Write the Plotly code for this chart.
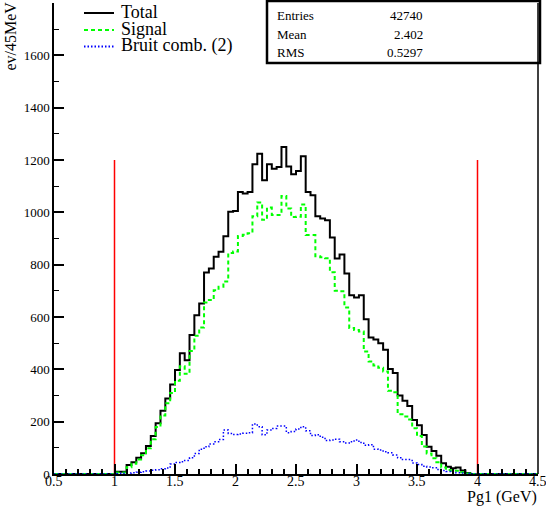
import numpy as np
import plotly.graph_objects as go

# ---------------- data ----------------
x_min, x_max = 0.5, 4.5
n_bins = 100
first_filled_low_edge = 1.02

total = [9, 9, 34, 45, 62, 79, 107, 145, 194, 242,
         289, 342, 397, 461, 435, 531, 607, 652, 770, 785,
         830, 849, 909, 1002, 1005, 1078, 1072, 1078, 1184, 1224,
         1123, 1184, 1167, 1173, 1250, 1175, 1146, 1158, 1214, 1078,
         1065, 985, 976, 970, 904, 824, 839, 766, 683, 675,
         683, 591, 522, 514, 500, 475, 401, 386, 300, 280,
         260, 206, 186, 149, 104, 88, 70, 41, 28, 22,
         25, 13, 4]

signal = [6, 6, 26, 39, 55, 72, 98, 133, 180, 224,
          270, 310, 356, 412, 383, 470, 528, 560, 655, 665,
          702, 716, 736, 845, 850, 910, 914, 920, 985, 1038,
          972, 1018, 990, 990, 1062, 1015, 982, 983, 1030, 913,
          913, 832, 828, 825, 771, 700, 698, 636, 558, 550,
          545, 468, 430, 415, 406, 392, 318, 312, 228, 220,
          208, 175, 145, 105, 78, 60, 45, 25, 15, 12,
          12, 7, 2]

bruit = [2, 3, 4, 5, 7, 9, 11, 14, 16, 20,
         23, 38, 44, 47, 52, 62, 78, 95, 104, 115,
         123, 132, 168, 155, 151, 153, 156, 158, 191, 181,
         150, 168, 174, 183, 183, 158, 162, 172, 181, 165,
         147, 150, 140, 128, 130, 133, 123, 118, 123, 130,
         120, 110, 112, 95, 92, 85, 81, 73, 62, 55,
         55, 42, 36, 30, 27, 24, 17, 13, 10, 7,
         5, 4, 2]

cut_low, cut_high, cut_top = 1.0, 4.0, 1200

legend_names = ["Total", "Signal", "Bruit comb. (2)"]
stats_labels = ["Entries", "Mean", "RMS"]
stats_values = ["42740", "2.402", "0.5297"]

x_tick_vals = [0.5, 1, 1.5, 2, 2.5, 3, 3.5, 4, 4.5]
x_tick_text = ["0.5", "1", "1.5", "2", "2.5", "3", "3.5", "4", "4.5"]
y_tick_vals = [0, 200, 400, 600, 800, 1000, 1200, 1400, 1600]
y_range = [0, 1800]

x_title = "Pg1 (GeV)"
y_title = "ev/45MeV"

# ---------------- build ----------------
edges = np.linspace(x_min, x_max, n_bins + 1)
width = edges[1] - edges[0]
start = int(round((first_filled_low_edge - x_min) / width))


def full(vals):
    arr = np.zeros(n_bins)
    arr[start:start + len(vals)] = vals
    return arr


def step(vals):
    v = full(vals)
    return edges, np.append(v, v[-1])


FONT = "Liberation Serif, Times New Roman, serif"

fig = go.Figure()

styles = [
    dict(color="black", width=2, dash="solid"),
    dict(color="#00ff00", width=2, dash="4px,3px"),
    dict(color="#0000ff", width=1.5, dash="1.5px,2px"),
]
for vals, name, st in zip([total, signal, bruit], legend_names, styles):
    xs, ys = step(vals)
    fig.add_trace(go.Scatter(x=xs, y=ys, mode="lines", line_shape="hv",
                             line=st, name=name, showlegend=False,
                             hoverinfo="skip"))

for xc in [cut_low, cut_high]:
    fig.add_trace(go.Scatter(x=[xc, xc], y=[0, cut_top], mode="lines",
                             line=dict(color="#ff0000", width=1.5),
                             showlegend=False, hoverinfo="skip"))

L, R, T, B = 54, 8, 3, 38
W, H = 546, 512
pw, ph = W - L - R, H - T - B


def px(xp):
    return (xp - L) / pw


def py(yp):
    return (H - B - yp) / ph


# legend (drawn by hand, ROOT style)
leg_y = [13, 30, 46.5]
for name, st, yy in zip(legend_names, styles, leg_y):
    fig.add_shape(type="line", xref="paper", yref="paper",
                  x0=px(84), x1=px(114), y0=py(yy), y1=py(yy),
                  line=dict(color=st["color"], width=2, dash=st["dash"]))
    fig.add_annotation(xref="paper", yref="paper", x=px(119), y=py(yy - 1),
                       text=name, showarrow=False, xanchor="left",
                       yanchor="middle",
                       font=dict(family=FONT, size=18, color="black"))

# stats box
fig.add_shape(type="rect", xref="paper", yref="paper",
              x0=px(267), x1=px(540), y0=py(1), y1=py(63),
              line=dict(color="black", width=2.5), fillcolor="white")
for i, (lab, val) in enumerate(zip(stats_labels, stats_values)):
    yy = 16 + i * 18.5
    fig.add_annotation(xref="paper", yref="paper", x=px(275), y=py(yy),
                       text=lab, showarrow=False, xanchor="left",
                       yanchor="middle",
                       font=dict(family=FONT, size=13, color="black"))
    fig.add_annotation(xref="paper", yref="paper", x=px(425), y=py(yy),
                       text=val, showarrow=False, xanchor="right",
                       yanchor="middle",
                       font=dict(family=FONT, size=13, color="black"))

# x tick labels (ROOT puts them close to the axis)
for tv, tt in zip(x_tick_vals, x_tick_text):
    fig.add_annotation(xref="x", yref="paper", x=tv, y=py(481.5),
                       text=tt, showarrow=False, xanchor="center",
                       yanchor="middle",
                       font=dict(family=FONT, size=14, color="black"))

# axis titles
fig.add_annotation(xref="paper", yref="paper", x=px(539), y=py(497),
                   text=x_title, showarrow=False, xanchor="right",
                   yanchor="middle",
                   font=dict(family=FONT, size=16, color="black"))
fig.add_annotation(xref="paper", yref="paper", x=px(10), y=py(0),
                   text=y_title, showarrow=False, xanchor="center",
                   yanchor="top", textangle=-90,
                   font=dict(family=FONT, size=16, color="black"))

fig.update_layout(
    width=W, height=H,
    margin=dict(l=L, r=R, t=T, b=B, pad=0),
    paper_bgcolor="white", plot_bgcolor="white",
    font=dict(family=FONT, size=13, color="black"),
    showlegend=False,
)
fig.update_xaxes(range=[x_min, x_max], tickvals=x_tick_vals,
                 showticklabels=False, ticks="inside", ticklen=10,
                 tickwidth=1.5, tickcolor="black", showgrid=False,
                 zeroline=False, showline=True, linecolor="black",
                 linewidth=2, mirror=False,
                 minor=dict(dtick=0.1, ticks="inside", ticklen=5,
                            tickcolor="black", tickwidth=1.5, showgrid=False))
fig.update_yaxes(range=y_range, tickvals=y_tick_vals, ticks="inside",
                 ticklen=10, tickwidth=1.5, tickcolor="black",
                 showgrid=False, zeroline=False, showline=True,
                 linecolor="black", linewidth=1.5,
                 minor=dict(dtick=100, ticks="inside", ticklen=5,
                            tickcolor="black", tickwidth=1, showgrid=False),
                 tickfont=dict(family=FONT, size=13))
# right frame edge
fig.add_shape(type="line", xref="paper", yref="paper", x0=1, x1=1,
              y0=0, y1=1, line=dict(color="black", width=1.5))

fig.write_html("out.html")
